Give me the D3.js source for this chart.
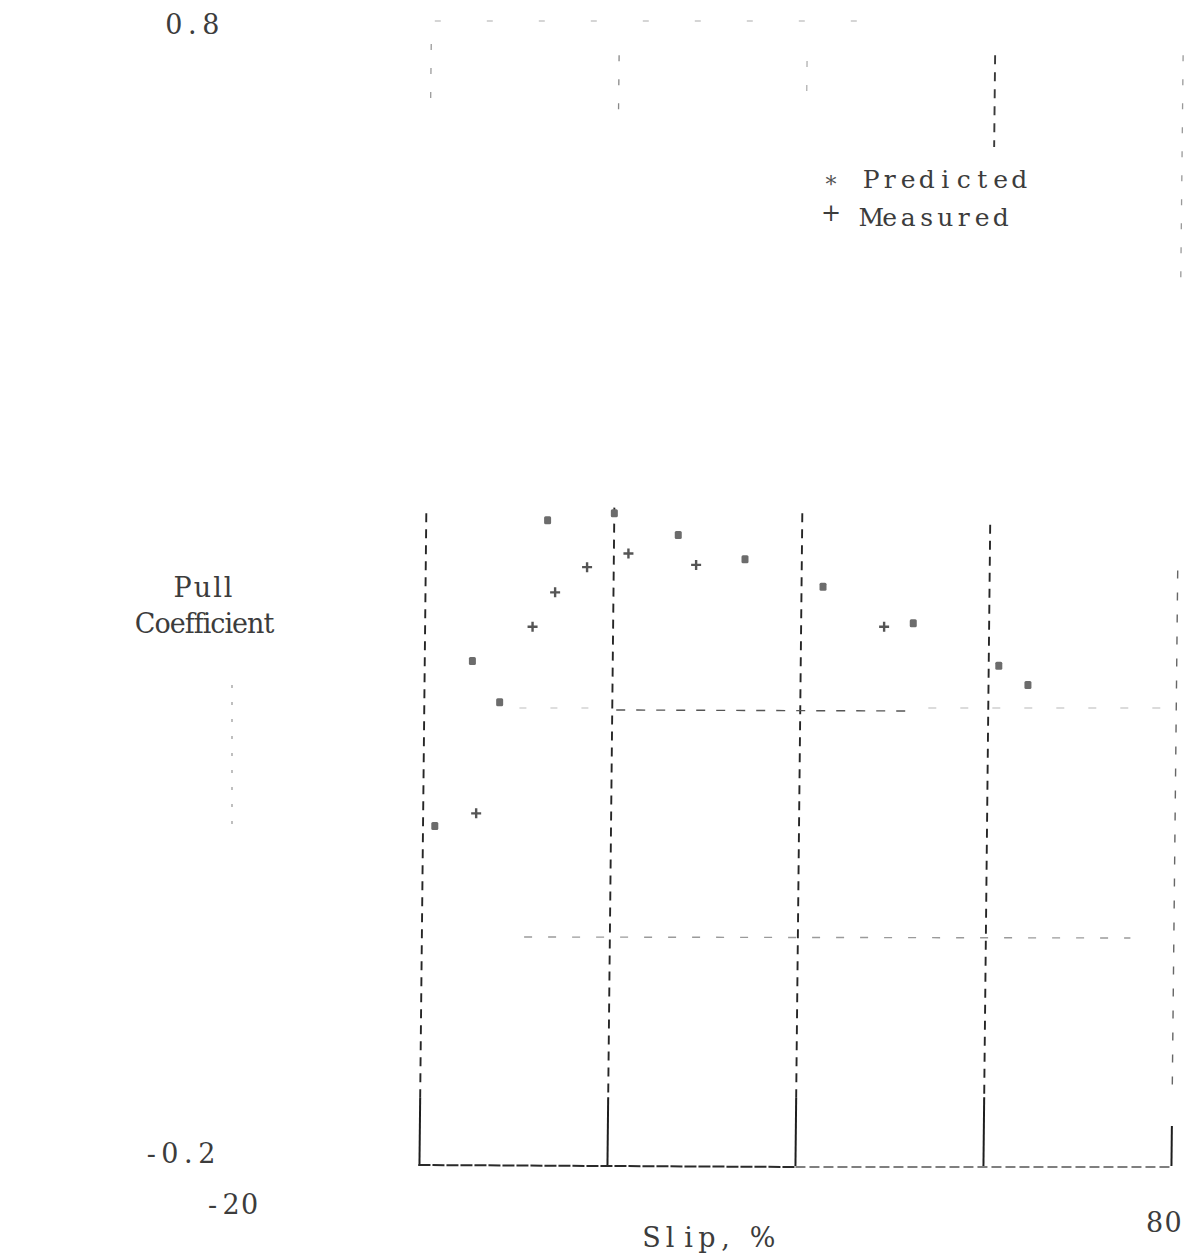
<!DOCTYPE html>
<html>
<head>
<meta charset="utf-8">
<script src="https://cdn.jsdelivr.net/npm/d3@7"></script>
<style>
  html, body { margin: 0; padding: 0; background: #fff; }
  svg { display: block; }
  text { white-space: pre; }
</style>
</head>
<body>
<script>
// Pull coefficient versus slip: predicted and measured values
const slipPredicted = [1.0, 5.0, 7.9, 13.0, 20.1, 26.9, 34.0, 42.3, 51.9, 61.0, 64.1];
const pullPredicted = [0.097, 0.241, 0.205, 0.364, 0.370, 0.351, 0.330, 0.306, 0.274, 0.237, 0.220];

const slipMeasured = [5.4, 11.4, 13.8, 17.2, 21.6, 28.8, 48.8];
const pullMeasured = [0.108, 0.271, 0.301, 0.323, 0.335, 0.325, 0.271];

const slipGrid = [0, 20, 40, 60, 80];
const pullGrid = [0.2, 0.0];
const xTickLabels = ["-20", "80"];
const yTickLabels = ["0.8", "-0.2"];
const legendLabels = ["Predicted", "Measured"];
const legendSymbols = ["*", "+"];

const W = 1185, H = 1258;
const FONT = "'DejaVu Serif', 'Liberation Serif', serif";
const FS = 27;       // text size
const ADV = 18.5;    // typewriter pitch
const INK = "#3c3c3c";

const x = d3.scaleLinear().domain([-20, 80]).range([237.4, 1177.4]);
const y = d3.scaleLinear().domain([-0.2, 0.8]).range([1166, 21]);

// the sheet sits slightly rotated: grid lines lean a little to the right toward the top
const lean = py => (600 - py) * 0.0105;

const svg = d3.select("body").append("svg")
  .attr("width", W).attr("height", H)
  .attr("viewBox", `0 0 ${W} ${H}`);

// fixed-pitch text: every character sits in its own cell
function typeText(g, str, px, py, anchor, size) {
  const n = str.length, w = n * ADV;
  const x0 = anchor === "end" ? px - w : anchor === "middle" ? px - w / 2 : px;
  const t = g.append("text")
    .attr("y", py)
    .attr("font-family", FONT)
    .attr("font-size", size || FS)
    .attr("fill", INK)
    .attr("text-anchor", "middle");
  t.selectAll("tspan").data(str.split("")).join("tspan")
    .attr("x", (d, i) => x0 + i * ADV + ADV / 2)
    .text(d => d);
  return t;
}

function vSeg(g, v, vTop, vBot) {
  const y1 = y(vTop), y2 = y(vBot);
  return g.append("line")
    .attr("x1", x(v) + lean(y1)).attr("x2", x(v) + lean(y2))
    .attr("y1", y1).attr("y2", y2);
}

const grid = svg.append("g").attr("fill", "none");

// faint upper remnants of the vertical grid
const upperTop = [0.78, 0.77, 0.765, 0.77, 0.77];
const upperBottom = [0.73, 0.71, 0.73, 0.69, 0.57];
const upperInk = ["#9a9a9a", "#888", "#b0b0b0", "#3a3a3a", "#999"];
slipGrid.forEach((v, i) => {
  vSeg(grid, v, upperTop[i], upperBottom[i])
    .attr("stroke", upperInk[i])
    .attr("stroke-width", i === 3 ? 1.9 : 1.3)
    .attr("stroke-dasharray", i === 3 ? "9,8" : "6,18");
});

// dashed vertical grid lines over the data region
const lowerTop = [0.37, 0.375, 0.37, 0.36, 0.32];
slipGrid.forEach((v, i) => {
  vSeg(grid, v, lowerTop[i], -0.14)
    .attr("stroke", i === 4 ? "#666" : "#262626")
    .attr("stroke-width", i === 4 ? 1.4 : 1.9)
    .attr("stroke-dasharray", i === 4 ? "8,14" : "9,7");
});

// solid feet of the vertical lines near the base
slipGrid.forEach((v, i) => {
  vSeg(grid, v, i === 4 ? -0.165 : -0.14, -0.2)
    .attr("stroke", "#1e1e1e")
    .attr("stroke-width", 2);
});

// horizontal grid lines at 0.2 and 0.0
const hFrom = [20.3, 10.5];
const hTo = [51.5, 75];
pullGrid.forEach((v, i) => {
  grid.append("line")
    .attr("x1", x(hFrom[i])).attr("x2", x(hTo[i]))
    .attr("y1", y(v) + (i === 0 ? 2 : 0)).attr("y2", y(v) + (i === 0 ? 3 : 1))
    .attr("stroke", i === 0 ? "#555" : "#9a9a9a")
    .attr("stroke-width", 1.4)
    .attr("stroke-dasharray", i === 0 ? "9,11" : "8,16");
});
// lighter continuations of the 0.2 line
grid.append("line")
  .attr("x1", x(53.5)).attr("x2", x(80))
  .attr("y1", y(0.2)).attr("y2", y(0.2))
  .attr("stroke", "#d0d0d0").attr("stroke-width", 1.3)
  .attr("stroke-dasharray", "8,24");
grid.append("line")
  .attr("x1", x(10)).attr("x2", x(19))
  .attr("y1", y(0.2)).attr("y2", y(0.2))
  .attr("stroke", "#d4d4d4").attr("stroke-width", 1.3)
  .attr("stroke-dasharray", "7,24");

// faint top border
grid.append("line")
  .attr("x1", x(1)).attr("x2", x(47))
  .attr("y1", y(0.8)).attr("y2", y(0.8))
  .attr("stroke", "#c8c8c8").attr("stroke-width", 1.3)
  .attr("stroke-dasharray", "6,46");

// faint remnant of the left axis
grid.append("line")
  .attr("x1", 232).attr("x2", 232)
  .attr("y1", y(0.22)).attr("y2", y(0.09))
  .attr("stroke", "#8a8a8a").attr("stroke-width", 1.1)
  .attr("stroke-dasharray", "3,14");

// base line at -0.2
const yb = y(-0.2);
grid.append("line")
  .attr("x1", x(0) + lean(yb) - 1).attr("x2", x(40) + lean(yb))
  .attr("y1", yb - 1).attr("y2", yb + 1)
  .attr("stroke", "#2a2a2a").attr("stroke-width", 2)
  .attr("stroke-dasharray", "12,2");
grid.append("line")
  .attr("x1", x(40) + lean(yb)).attr("x2", x(80) + lean(yb))
  .attr("y1", yb + 1).attr("y2", yb + 1)
  .attr("stroke", "#555").attr("stroke-width", 1.6)
  .attr("stroke-dasharray", "10,4");

// predicted points
const pts = slipPredicted.map((s, i) => ({ s, p: pullPredicted[i] }));
svg.append("g").selectAll("rect").data(pts).join("rect")
  .attr("x", d => x(d.s) - 3.5)
  .attr("y", d => y(d.p) - 4)
  .attr("width", 7).attr("height", 8)
  .attr("rx", 1.5)
  .attr("fill", "#6c6c6c");

// measured points
const mpts = slipMeasured.map((s, i) => ({ s, p: pullMeasured[i] }));
svg.append("g").selectAll("path").data(mpts).join("path")
  .attr("d", d => `M${x(d.s) - 5},${y(d.p)}h10M${x(d.s)},${y(d.p) - 5}v10`)
  .attr("stroke", "#555")
  .attr("stroke-width", 2.4)
  .attr("fill", "none");

// axis extreme labels
const labels = svg.append("g");
typeText(labels, yTickLabels[0], 220, y(0.8) + 13, "end");
typeText(labels, yTickLabels[1], 216, y(-0.2) - 3, "end");
typeText(labels, xTickLabels[0], 231, 1214, "middle");
typeText(labels, xTickLabels[1], x(80) + 5, 1232, "end");

// axis titles
typeText(labels, "Slip, %", 707, 1247, "middle");
labels.append("text")
  .attr("x", 204).attr("y", 597)
  .attr("font-family", FONT).attr("font-size", FS)
  .attr("fill", INK).attr("text-anchor", "middle")
  .attr("letter-spacing", 2)
  .text("Pull");
labels.append("text")
  .attr("x", 204).attr("y", 633)
  .attr("font-family", FONT).attr("font-size", FS)
  .attr("fill", INK).attr("text-anchor", "middle")
  .attr("letter-spacing", -1)
  .text("Coefficient");

// legend
const legend = svg.append("g");
legendLabels.forEach((lab, i) => {
  const by = i === 0 ? 188 : 226;
  legend.append("text")
    .attr("x", 831).attr("y", i === 0 ? by + 4 : by - 5)
    .attr("font-family", FONT).attr("font-size", i === 0 ? 22 : 24)
    .attr("fill", i === 0 ? "#555" : INK).attr("text-anchor", "middle")
    .text(legendSymbols[i]);
  typeText(legend, lab, 862, by, "start", 25);
});
</script>
</body>
</html>
